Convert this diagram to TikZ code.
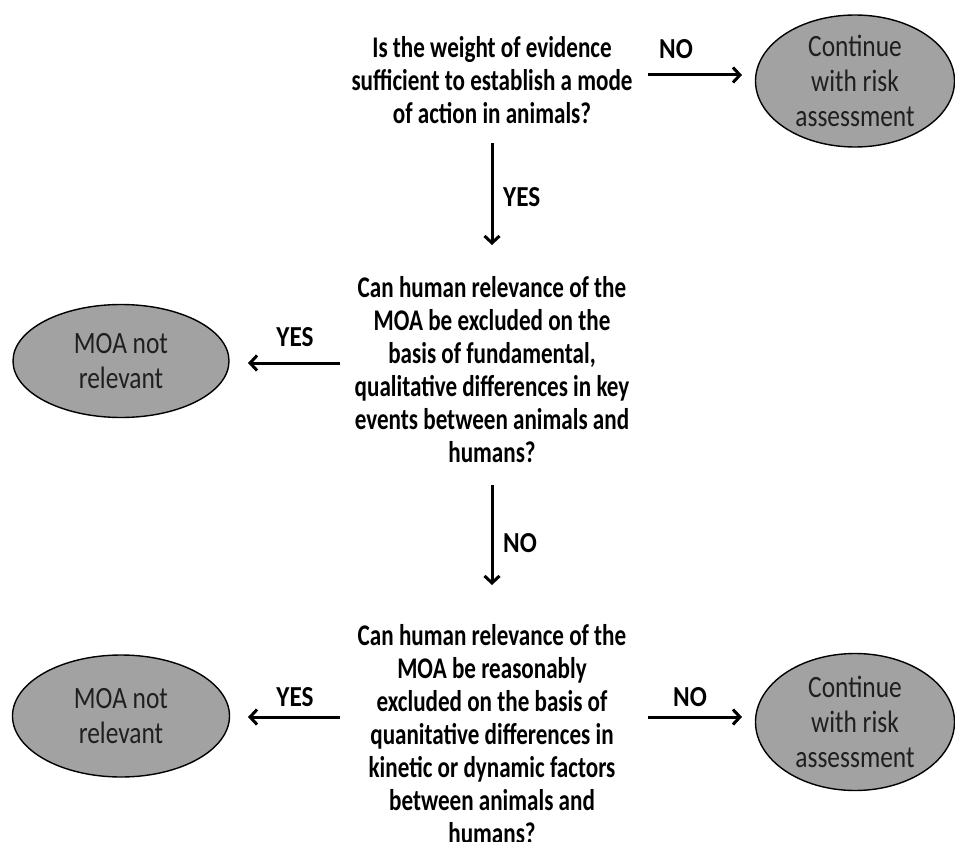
\documentclass[tikz,border=0pt]{standalone}
\usepackage{fontspec}
\setmainfont{Carlito}
\newfontfamily\qfont[FakeStretch=0.77]{Carlito}
\newfontfamily\efont[FakeStretch=0.82]{Carlito}
\newfontfamily\lfont[FakeStretch=0.87]{Carlito}
\usetikzlibrary{arrows.meta,shapes.geometric}
\definecolor{ellgray}{RGB}{162,162,162}
\begin{document}
\begin{tikzpicture}[x=1pt,y=-1pt,
  q/.style={align=center,font=\qfont\fontsize{30}{33}\selectfont\bfseries,inner sep=0pt},
  ellshape/.style={ellipse,draw=black,line width=1.4pt,fill=ellgray,inner sep=0pt},
  elltext/.style={align=center,font=\efont\fontsize{31}{35}\selectfont,text=black!88,inner sep=0pt},
  arr/.style={line width=3pt,-{Straight Barb[length=7pt,width=15pt,line width=3pt]}},
  lab/.style={font=\lfont\fontsize{29}{30}\selectfont\bfseries,inner sep=0pt}]
\useasboundingbox[fill=white] (0,0) rectangle (955,842);

% questions
\node[q] (q1) at (492,80) {Is the weight of evidence\\sufficient to establish a mode\\of action in animals?};
\node[q] (q2) at (492,370) {Can human relevance of the\\MOA be excluded on the\\basis of fundamental,\\qualitative differences in key\\events between animals and\\humans?};
\node[q] (q3) at (492,734) {Can human relevance of the\\MOA be reasonably\\excluded on the basis of\\quanitative differences in\\kinetic or dynamic factors\\between animals and\\humans?};

% outcome ellipses
\node[ellshape,minimum width=199,minimum height=132] (c1) at (855,81) {};
\node[elltext] at (c1) {Continue\\with risk\\assessment};
\node[ellshape,minimum width=216,minimum height=113] (m1) at (121,361) {};
\node[elltext] at (m1) {MOA not\\relevant};
\node[ellshape,minimum width=217,minimum height=122] (m2) at (121,716) {};
\node[elltext] at (m2) {MOA not\\relevant};
\node[ellshape,minimum width=199,minimum height=137] (c2) at (855,722) {};
\node[elltext] at (c2) {Continue\\with risk\\assessment};

% connectors
\coordinate (q1e) at (648,75);
\coordinate (c1w) at (742,75);
\draw[arr] (q1e) -- (c1w);
\node[lab] at (676,49) {NO};

\coordinate (q1s) at (492,143);
\coordinate (q2n) at (492,245);
\draw[arr] (q1s) -- (q2n);
\node[lab,anchor=west] at (503,197) {YES};

\coordinate (q2w) at (340,363);
\coordinate (m1e) at (248,363);
\draw[arr] (q2w) -- (m1e);
\node[lab] at (295,337) {YES};

\coordinate (q2s) at (492,485);
\coordinate (q3n) at (492,585);
\draw[arr] (q2s) -- (q3n);
\node[lab,anchor=west] at (503,543) {NO};

\coordinate (q3w) at (340,717);
\coordinate (m2e) at (248,717);
\draw[arr] (q3w) -- (m2e);
\node[lab] at (295,697) {YES};

\coordinate (q3e) at (648,717);
\coordinate (c2w) at (742,717);
\draw[arr] (q3e) -- (c2w);
\node[lab] at (690,697) {NO};
\end{tikzpicture}
\end{document}
